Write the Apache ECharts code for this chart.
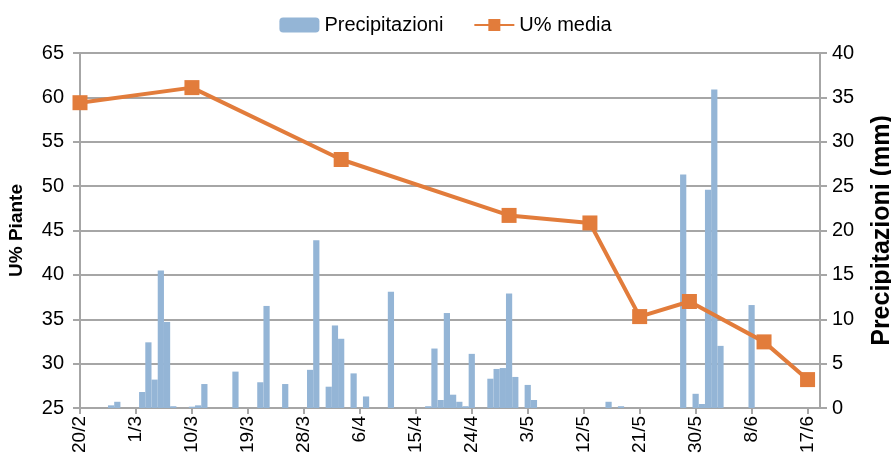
<!DOCTYPE html>
<html>
<head>
<meta charset="utf-8">
<title>U% Piante / Precipitazioni</title>
<script src="https://cdn.jsdelivr.net/npm/echarts/dist/echarts.min.js"></script>
<style>
  html, body { margin: 0; padding: 0; background: #fff; }
  #chart { width: 891px; height: 468px; }
</style>
</head>
<body>
<div id="chart"></div>
<script>
// giorni dal 20/2 al 19/6 (una categoria per giorno)
let days = [];
for (let i = 0; i < 120; i++) {
  let d = new Date(2011, 1, 20 + i);
  days.push(d.getDate() + '/' + (d.getMonth() + 1));
}

// precipitazioni (mm), solo i giorni con pioggia
let rainDates = ['25/2', '26/2', '2/3', '3/3', '4/3', '5/3', '6/3', '7/3', '10/3', '11/3',
  '12/3', '17/3', '21/3', '22/3', '25/3', '29/3', '30/3', '1/4', '2/4', '3/4',
  '5/4', '7/4', '11/4', '17/4', '18/4', '19/4', '20/4', '21/4', '22/4', '23/4',
  '24/4', '27/4', '28/4', '29/4', '30/4', '1/5', '3/5', '4/5', '16/5', '18/5',
  '28/5', '30/5', '31/5', '1/6', '2/6', '3/6', '8/6'];
let rainValues = [0.3, 0.7, 1.8, 7.4, 3.2, 15.5, 9.7, 0.2, 0.15, 0.3,
  2.7, 4.1, 2.9, 11.5, 2.7, 4.3, 18.9, 2.4, 9.3, 7.8,
  3.9, 1.3, 13.1, 0.2, 6.7, 0.9, 10.7, 1.5, 0.7, 0.2,
  6.1, 3.3, 4.4, 4.5, 12.9, 3.5, 2.6, 0.9, 0.7, 0.2,
  26.3, 1.6, 0.45, 24.6, 35.9, 7.0, 11.6];

// umidità media delle piante (%)
let humDates = ['20/2', '10/3', '3/4', '30/4', '13/5', '21/5', '29/5', '10/6', '17/6'];
let humValues = [59.4, 61.1, 53.0, 46.7, 45.85, 35.3, 37.0, 32.45, 28.2];

let rainSeries = days.map(function () { return 0; });
rainDates.forEach(function (lab, i) {
  rainSeries[days.indexOf(lab)] = rainValues[i];
});
let humSeries = days.map(function () { return null; });
humDates.forEach(function (lab, i) {
  humSeries[days.indexOf(lab)] = humValues[i];
});

let font = 'Liberation Sans, Arial, sans-serif';
let gridColor = '#a6a6a6';

let option = {
  animation: false,
  textStyle: { fontFamily: font, color: '#000' },
  legend: {
    top: 10,
    left: 'center',
    itemWidth: 40,
    itemHeight: 15,
    itemGap: 30,
    textStyle: { fontSize: 20, color: '#000', fontFamily: font },
    data: ['Precipitazioni', 'U% media']
  },
  // posizione fissa dell'area del grafico (niente adattamento alle etichette)
  grid: { left: 80, right: 71, top: 53, bottom: 60, containLabel: false, outerBoundsMode: 'none' },
  xAxis: {
    type: 'category',
    boundaryGap: false,
    data: days,
    axisLine: { lineStyle: { color: gridColor, width: 2 } },
    axisTick: { interval: 8, length: 6, lineStyle: { color: gridColor, width: 2 } },
    axisLabel: { interval: 8, rotate: 90, fontSize: 19, color: '#000', margin: 8 },
    splitLine: { show: false }
  },
  yAxis: [
    {
      type: 'value',
      min: 25,
      max: 65,
      interval: 5,
      name: 'U% Piante',
      nameLocation: 'middle',
      nameGap: 54,
      nameTextStyle: { fontSize: 19, fontWeight: 'bold', color: '#000' },
      axisLine: { show: true, lineStyle: { color: gridColor, width: 2 } },
      axisTick: { show: true, length: 7, lineStyle: { color: gridColor, width: 2 } },
      axisLabel: { fontSize: 20, color: '#000', margin: 16 },
      splitLine: { lineStyle: { color: gridColor, width: 2 } }
    },
    {
      type: 'value',
      min: 0,
      max: 40,
      interval: 5,
      position: 'right',
      name: 'Precipitazioni (mm)',
      nameLocation: 'middle',
      nameRotate: 90,
      nameGap: 50,
      nameTextStyle: { fontSize: 25, fontWeight: 'bold', color: '#000' },
      axisLine: { show: true, lineStyle: { color: gridColor, width: 2 } },
      axisTick: { show: true, length: 7, lineStyle: { color: gridColor, width: 2 } },
      axisLabel: { fontSize: 20, color: '#000', margin: 12 },
      splitLine: { show: false }
    }
  ],
  series: [
    {
      name: 'Precipitazioni',
      type: 'bar',
      yAxisIndex: 1,
      barCategoryGap: '0%',
      itemStyle: { color: '#94b5d6' },
      data: rainSeries,
      z: 2
    },
    {
      name: 'U% media',
      type: 'line',
      yAxisIndex: 0,
      connectNulls: true,
      showAllSymbol: true,
      symbol: 'rect',
      symbolSize: 15,
      lineStyle: { color: '#e27c3b', width: 4 },
      itemStyle: { color: '#e27c3b' },
      data: humSeries,
      z: 3
    }
  ]
};

let chart = echarts.init(document.getElementById('chart'));
chart.setOption(option);
</script>
</body>
</html>
